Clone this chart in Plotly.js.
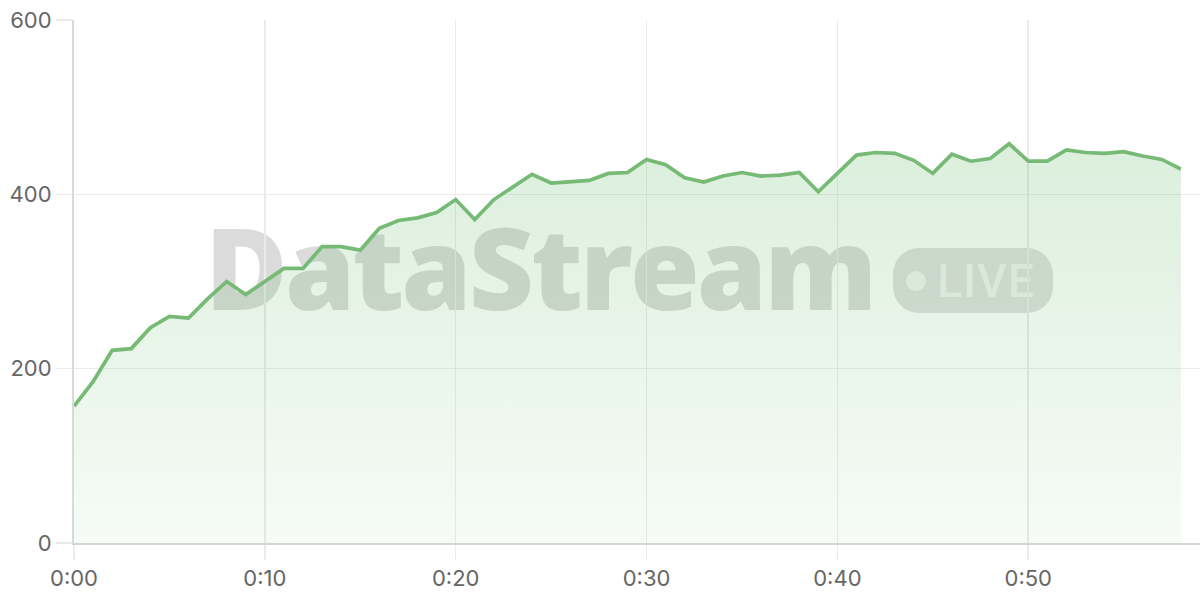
<!DOCTYPE html>
<html>
<head>
<meta charset="utf-8">
<script src="https://cdn.plot.ly/plotly-3.0.1.min.js"></script>
<style>
  html, body { margin: 0; padding: 0; background: #ffffff; }
  #wrap { position: relative; width: 1200px; height: 600px; }
  /* watermark sits behind the transparent plot */
  #watermark {
    position: absolute; left: 74px; top: 20px; width: 1126px; height: 523px;
    display: flex; align-items: center; justify-content: flex-start;
    padding-left: 131px; box-sizing: border-box;
    font-family: "Open Sans", "DejaVu Sans", sans-serif;
  }
  #wm-text {
    position: relative; top: -15px;
    font-size: 113px; font-weight: 800; letter-spacing: -3px;
    color: rgba(0, 0, 0, 0.14); line-height: 1;
  }
  #wm-pill {
    position: relative; top: -1px;
    margin-left: 19px; height: 65px; padding: 0 18px 0 13px;
    border-radius: 26px; background: rgba(0, 0, 0, 0.12);
    display: flex; align-items: center; box-sizing: border-box;
    font-family: Roboto, "Open Sans", sans-serif;
    color: rgba(255, 255, 255, 0.6); font-size: 46px; font-weight: 500;
    letter-spacing: 1px;
  }
  #wm-dot {
    width: 20px; height: 20px; border-radius: 50%;
    background: rgba(255, 255, 255, 0.6); margin-right: 11px;
  }
  #chart { position: absolute; left: 0; top: 0; width: 1200px; height: 600px; }
</style>
</head>
<body>
<div id="wrap">
  <div id="watermark">
    <span id="wm-text">DataStream</span>
    <span id="wm-pill"><span id="wm-dot"></span>LIVE</span>
  </div>
  <div id="chart"></div>
</div>
<script>
//data: one reading per minute
var minutes = [];
for (var m = 0; m <= 58; m++) minutes.push(m);

var readings = [
  157, 185, 221, 223, 247, 260, 258, 280, 300, 285,
  300, 315, 315, 340, 340, 336, 361, 370, 373, 379,
  394, 371, 394, 408, 423, 413, 414, 416, 424, 425,
  440, 434, 419, 414, 421, 425, 421, 422, 425, 403,
  424, 445, 448, 447, 439, 424, 446, 438, 441, 458,
  438, 438, 451, 448, 447, 449, 444, 440, 429
];

var tickMinutes = [0, 10, 20, 30, 40, 50];
var tickLabels = ["0:00", "0:10", "0:20", "0:30", "0:40", "0:50"];

var trace = {
  x: minutes,
  y: readings,
  type: "scatter",
  mode: "lines",
  line: { color: "rgb(118,186,118)", width: 3.7 },
  fill: "tozeroy",
  fillgradient: {
    type: "vertical",
    start: 0,
    stop: 460,
    colorscale: [
      [0, "rgba(76,175,80,0.05)"],
      [1, "rgba(76,175,80,0.2)"]
    ]
  },
  hoverinfo: "skip"
};

var layout = {
  width: 1200,
  height: 600,
  margin: { l: 74, r: 0, t: 20, b: 57 },
  paper_bgcolor: "rgba(0,0,0,0)",
  plot_bgcolor: "rgba(0,0,0,0)",
  showlegend: false,
  font: { family: "Inter, 'Noto Sans', sans-serif", size: 22, color: "#666666" },
  xaxis: {
    range: [0, 59],
    tickvals: tickMinutes,
    ticktext: tickLabels,
    showgrid: true,
    gridcolor: "#ebebeb",
    gridwidth: 1.5,
    zeroline: false,
    showline: true,
    linecolor: "#d3d7d3",
    linewidth: 2,
    ticks: "outside",
    ticklen: 15,
    tickwidth: 1.5,
    tickcolor: "#ebebeb"
  },
  yaxis: {
    range: [0, 600],
    tickvals: [0, 200, 400, 600],
    showgrid: true,
    gridcolor: "#ebebeb",
    gridwidth: 1.5,
    zeroline: false,
    showline: true,
    linecolor: "#dadada",
    linewidth: 2,
    ticks: "outside",
    ticklen: 16,
    tickwidth: 1.5,
    tickcolor: "#ebebeb"
  }
};

Plotly.newPlot("chart", [trace], layout, { staticPlot: true, displayModeBar: false });
</script>
</body>
</html>
